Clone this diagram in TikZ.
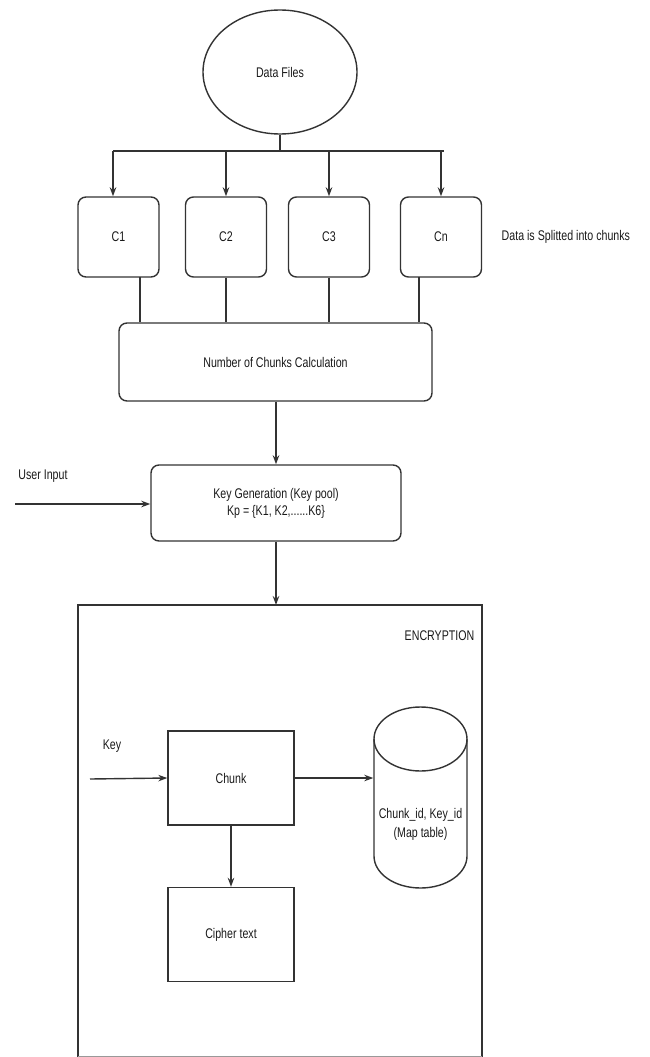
\documentclass[tikz,border=0pt]{standalone}
\usepackage{fontspec}
\setmainfont{Liberation Sans}[FakeStretch=0.76]
\usetikzlibrary{arrows.meta,shapes.geometric}
\begin{document}
\begin{tikzpicture}[x=1pt,y=-1pt,
  line width=1.4pt,
  every node/.style={font=\fontsize{14}{16}\selectfont, text=black!90},
  ln/.style={draw=black!80, line width=1.4pt},
  arr/.style={ln, -{Stealth[length=9pt,width=6.5pt]}},
  cbox/.style={draw=black!80, line width=1.4pt, rounded corners=8pt, minimum width=81pt, minimum height=80pt, inner sep=0pt},
  rbox/.style={draw=black!80, line width=1.4pt, rounded corners=8pt, inner sep=0pt},
  sbox/.style={draw=black!80, line width=1.4pt, minimum width=126pt, minimum height=94pt, inner sep=0pt},
  lbl/.style={inner sep=0pt}
]
\useasboundingbox (0,0) rectangle (649,1057);
% top ellipse
\node[ellipse, draw=black!80, line width=1.4pt, minimum width=154pt, minimum height=124pt, inner sep=0pt] (df) at (280,72) {Data Files};
% chunk boxes
\node[cbox] (c1) at (118.5,237) {C1};
\node[cbox] (c2) at (226,237) {C2};
\node[cbox] (c3) at (329,237) {C3};
\node[cbox] (cn) at (441,237) {Cn};
\node[lbl, anchor=west] (note) at (501,237) {Data is Splitted into chunks};
% bus
\coordinate (busM) at (280,151);
\coordinate (busL) at (113,151);
\coordinate (busR) at (444,151);
\draw[ln] (df.south) -- (busM);
\draw[ln] (busL) -- (busR);
\draw[arr] (busL) -- (busL |- c1.north);
\draw[arr] (c2.north |- busM) -- (c2.north);
\draw[arr] (c3.north |- busM) -- (c3.north);
\draw[arr] (cn.north |- busM) -- (cn.north);
% number box
\node[rbox, minimum width=313pt, minimum height=78pt] (num) at (275.5,362) {Number of Chunks Calculation};
\coordinate (o1) at (140,277);
\coordinate (on) at (419,277);
\draw[ln] (o1) -- (o1 |- num.north);
\draw[ln] (c2.south) -- (c2.south |- num.north);
\draw[ln] (c3.south) -- (c3.south |- num.north);
\draw[ln] (on) -- (on |- num.north);
% key generation
\node[rbox, minimum width=250pt, minimum height=76pt, align=center] (key) at (276,503) {Key Generation (Key pool)\\[1pt]Kp = \{K1, K2,......K6\}};
\draw[arr] (num.south -| key.north) -- (key.north);
\node[lbl] (ui) at (43,476) {User Input};
\coordinate (uistart) at (15,504);
\draw[arr] (uistart) -- (uistart -| key.west);
% encryption frame
\coordinate (fTL) at (78,605);
\coordinate (fTR) at (482,605);
\draw[ln] (78,1062) -- (fTL) -- (fTR) -- (482,1062);
\draw[draw=black!40, line width=0.8pt] (78,1056) -- (482,1056);
\draw[arr] (key.south) -- (key.south |- fTL);
\node[lbl, anchor=east] (enc) at (475,636) {ENCRYPTION};
% chunk and cipher
\node[sbox] (chunk) at (231,778) {Chunk};
\node[sbox] (cipher) at (231,934.5) {Cipher text};
\draw[arr] (chunk.south) -- (cipher.north);
\node[lbl] (keylbl) at (112,746) {Key};
\coordinate (keystart) at (90,779);
\draw[arr] (keystart) -- (chunk.west);
% cylinder map table
\node[minimum width=93pt, minimum height=181pt, inner sep=0pt] (map) at (420.5,797.5) {};
\draw[ln] (374,739) -- (374,856) arc[start angle=180, end angle=360, x radius=46.5pt, y radius=32pt] -- (467,739);
\draw[ln] (420.5,739) ellipse[x radius=46.5pt, y radius=32pt];
\node[lbl, align=center] (maptxt) at (420.5,824) {Chunk\_id, Key\_id\\[3pt](Map table)};
\draw[arr] (chunk.east) -- (chunk.east -| map.west);
\end{tikzpicture}
\end{document}
